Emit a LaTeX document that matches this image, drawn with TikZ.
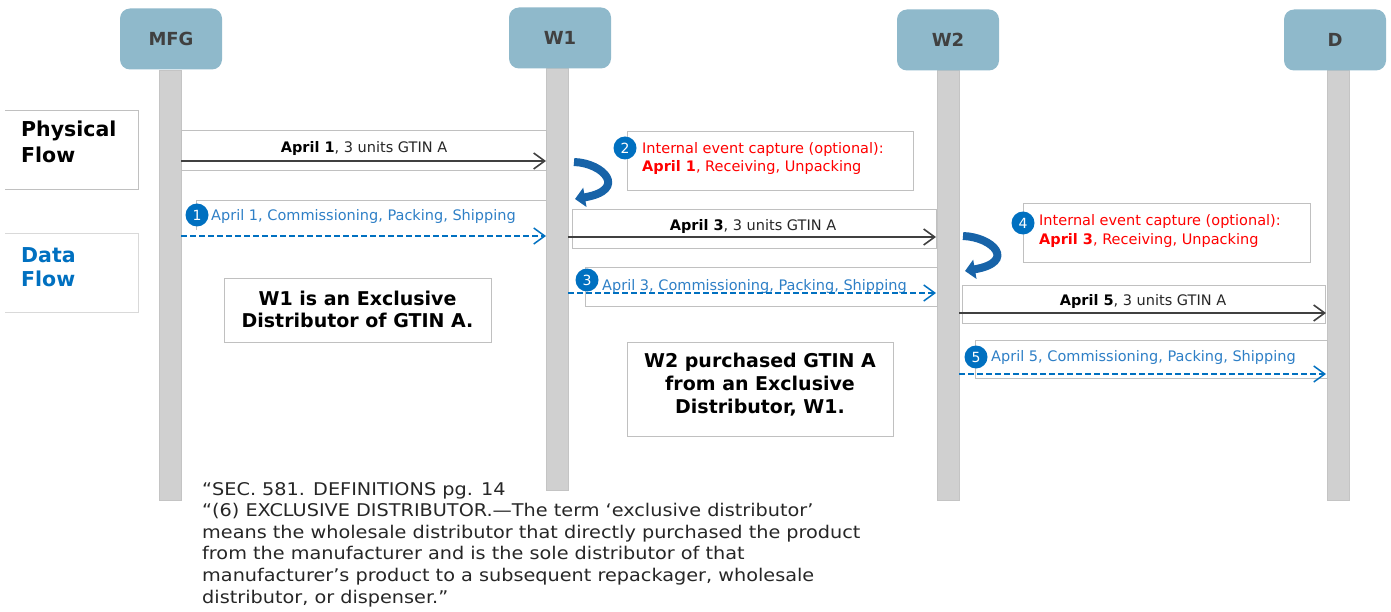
\documentclass[tikz,border=0pt]{standalone}
\usepackage{fontspec}
\setmainfont{DejaVu Sans}
\newfontfamily\deffont[FakeStretch=1.1]{DejaVu Sans}
\usetikzlibrary{arrows.meta}
\definecolor{hdrfill}{HTML}{8FB9CB}
\definecolor{hdrtext}{HTML}{404040}
\definecolor{barfill}{HTML}{D0D0D0}
\definecolor{barline}{HTML}{C4C4C4}
\definecolor{boxline}{HTML}{C0C0C0}
\definecolor{darkarrow}{HTML}{404040}
\definecolor{numblue}{HTML}{0070C0}
\definecolor{lbltext}{HTML}{2E7FC6}
\definecolor{curlblue}{HTML}{1763A8}
\definecolor{txt}{HTML}{262626}
\definecolor{evred}{HTML}{FF0000}
\newcommand{\fsz}[2]{\fontsize{#1pt}{#2pt}\selectfont}
\begin{document}
\begin{tikzpicture}[x=1pt,y=-1pt,
 hdr/.style={rounded corners=10pt, fill=hdrfill, text=hdrtext, font=\bfseries\fsz{18}{22}, minimum width=102pt, minimum height=61pt, inner sep=0pt},
 lifeline/.style={fill=barfill, draw=barline, line width=0.5pt, minimum width=22pt, inner sep=0pt, anchor=north},
 tbox/.style={draw=boxline, line width=0.8pt},
 phys/.style={draw=darkarrow, line width=1.6pt, -{Straight Barb[length=11pt,width=16pt,line width=1.6pt]}},
 datarr/.style={draw=numblue, line width=1.5pt, dash pattern=on 6pt off 3pt, -{Straight Barb[length=11pt,width=16pt,line width=1.5pt]}},
 num/.style={circle, fill=numblue, text=white, minimum size=23pt, inner sep=0pt, font=\fsz{14}{16}},
 lbl/.style={inner sep=0pt, font=\fsz{14.5}{17}, text=txt},
 dlbl/.style={inner sep=0pt, font=\fsz{14.5}{17}, text=lbltext, anchor=base west},
 evt/.style={inner sep=0pt, font=\fsz{14.5}{17}, text=evred, anchor=base west},
 note/.style={inner sep=0pt, font=\bfseries\fsz{19}{23}, text=black, align=center},
 flowlbl/.style={inner sep=0pt, font=\bfseries\fsz{20.5}{26}, anchor=base west},
 defl/.style={inner sep=0pt, font=\deffont\fsz{17.5}{21.6}, text=txt, anchor=base west},
 curl/.style={draw=curlblue, line width=8pt, -{Triangle[length=10pt,width=19pt]}}
]
\useasboundingbox (0,0) rectangle (1391,612);

% lifelines
\node[lifeline, minimum height=430pt] (mfgL) at (170,70) {};
\node[lifeline, minimum height=422pt] (w1L) at (557,68) {};
\node[lifeline, minimum height=430pt] (w2L) at (948,70) {};
\node[lifeline, minimum height=430pt] (dL) at (1338,70) {};

% headers
\node[hdr] (mfg) at (171,39) {MFG};
\node[hdr] (w1) at (560,38) {W1};
\node[hdr] (w2) at (948,40) {W2};
\node[hdr] (d) at (1335,40) {D};

% flow labels
\draw[tbox] (5,110) -- (138,110) -- (138,189) -- (5,189);
\node[flowlbl, text=black] (pf1) at (21,137) {Physical};
\node[flowlbl, text=black] (pf2) at (21,163) {Flow};
\draw[tbox, draw=boxline!60] (5,233) -- (138,233) -- (138,312) -- (5,312);
\node[flowlbl, text=numblue] (df1) at (21,262) {Data};
\node[flowlbl, text=numblue] (df2) at (21,287) {Flow};

% ---- step 1 ----
\draw[tbox] (181,130) rectangle (546,170);
\node[lbl, anchor=base] (l1) at (364,153) {\textbf{\color{black}April 1}, 3 units GTIN A};
\coordinate (a1s) at (181,161); \coordinate (a1e) at (546,161);
\draw[phys] (a1s) -- (a1e);

\draw[tbox] (196,230) -- (196,200) -- (546,200);
\node[num] (n1) at (197,215) {1};
\node[dlbl] (d1) at (211,221) {April 1, Commissioning, Packing, Shipping};
\coordinate (b1s) at (181,236); \coordinate (b1e) at (546,236);
\draw[datarr] (b1s) -- (b1e);

% curl 1
\coordinate (c1s) at (574,162); \coordinate (c1e) at (575,199);
\draw[curl] (c1s) .. controls (604,163) and (628,190) .. (c1e);

% ---- step 2 ----
\draw[tbox] (627,131) rectangle (913,190);
\node[num] (n2) at (625,148) {2};
\node[evt] (e2a) at (642,154) {Internal event capture (optional):};
\node[evt] (e2b) at (642,172) {\textbf{April 1}, Receiving, Unpacking};

% ---- step 3 ----
\draw[tbox] (572,209) rectangle (936,248);
\node[lbl, anchor=base] (l3) at (753,231) {\textbf{\color{black}April 3}, 3 units GTIN A};
\coordinate (a3s) at (568,237); \coordinate (a3e) at (936,237);
\draw[phys] (a3s) -- (a3e);

\draw[tbox] (585,267) rectangle (937,306);
\node[num] (n3) at (587,280) {3};
\node[dlbl] (d3) at (602,290) {April 3, Commissioning, Packing, Shipping};
\coordinate (b3s) at (568,293); \coordinate (b3e) at (936,293);
\draw[datarr] (b3s) -- (b3e);

% curl 2
\coordinate (c2s) at (963,236); \coordinate (c2e) at (965,271);
\draw[curl] (c2s) .. controls (993,237) and (1017,262) .. (c2e);

% ---- step 4 ----
\draw[tbox] (1023,203) rectangle (1310,262);
\node[num] (n4) at (1023,223) {4};
\node[evt] (e4a) at (1039,226) {Internal event capture (optional):};
\node[evt] (e4b) at (1039,244) {\textbf{April 3}, Receiving, Unpacking};

% ---- step 5 ----
\draw[tbox] (962,285) rectangle (1325,323);
\node[lbl, anchor=base] (l5) at (1143,305) {\textbf{\color{black}April 5}, 3 units GTIN A};
\coordinate (a5s) at (959,313); \coordinate (a5e) at (1326,313);
\draw[phys] (a5s) -- (a5e);

\draw[tbox] (975,340) rectangle (1327,378);
\node[num] (n5) at (976,357) {5};
\node[dlbl] (d5) at (991,361) {April 5, Commissioning, Packing, Shipping};
\coordinate (b5s) at (959,374); \coordinate (b5e) at (1326,374);
\draw[datarr] (b5s) -- (b5e);

% notes
\draw[tbox] (224,278) rectangle (491,342);
\node[note, anchor=base] (nw1a) at (357.5,305) {W1 is an Exclusive};
\node[note, anchor=base] (nw1b) at (357.5,327) {Distributor of GTIN A.};

\draw[tbox] (627,342) rectangle (893,436);
\node[note, anchor=base] (nw2a) at (760,367) {W2 purchased GTIN A};
\node[note, anchor=base] (nw2b) at (760,390) {from an Exclusive};
\node[note, anchor=base] (nw2c) at (760,413) {Distributor, W1.};

% definition
\node[defl] (def1) at (202,495) {“SEC. 581. DEFINITIONS pg. 14};
\node[defl] (def2) at (202,516.6) {“(6) EXCLUSIVE DISTRIBUTOR.—The term ‘exclusive distributor’};
\node[defl] (def3) at (202,538.2) {means the wholesale distributor that directly purchased the product};
\node[defl] (def4) at (202,559.8) {from the manufacturer and is the sole distributor of that};
\node[defl] (def5) at (202,581.4) {manufacturer’s product to a subsequent repackager, wholesale};
\node[defl] (def6) at (202,603) {distributor, or dispenser.”};
\end{tikzpicture}
\end{document}
